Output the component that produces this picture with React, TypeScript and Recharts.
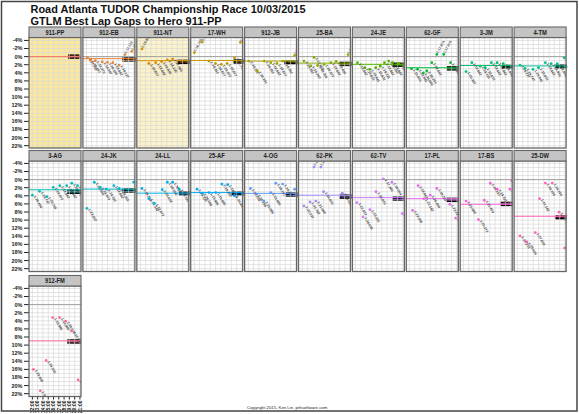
import React from 'react';
import { ComposedChart, Scatter, XAxis, YAxis, ReferenceLine, ReferenceArea } from 'recharts';

const CARS = ['911-PP', '912-EB', '911-NT', '17-WH', '912-JB', '25-BA', '24-JE', '62-GF', '3-JM', '4-TM',
  '3-AG', '24-JK', '24-LL', '25-AF', '4-OG', '62-PK', '62-TV', '17-PL', '17-BS', '25-DW', '912-FM'];

// best lap of each car, % slower than the hero's best
const BEST_GAP = [0, 0.5, 1.0, 0.95, 1.1, 1.6, 1.9, 2.75, 2.2, 2.3, 2.5, 2.35, 3.35, 3.2, 3.4, 3.85, 4.45, 4.7, 6.1, 9.05, 8.95];

// best lap of each stint: time of day (h) and gap (%)
const LAP_HOUR = [
  [21.15],
  [12.2, 12.8, 13.7, 15.0, 16.0, 17.0, 18.2, 19.3, 20.6],
  [12.3, 13.6, 14.9, 16.0, 17.1, 18.1],
  [12.0, 13.5, 14.75, 16.0, 17.1, 18.2, 19.6, 20.7],
  [12.1, 13.7, 15.0, 16.25, 17.4, 18.5, 20.75],
  [12.3, 13.6, 14.2, 14.9, 16.1, 17.4, 18.4, 20.65],
  [12.4, 13.8, 14.75, 15.85, 16.7, 17.5, 18.3, 19.05, 20.2, 21.2],
  [12.4, 13.55, 14.65, 15.3, 16.25, 17.2, 18.5, 19.8],
  [12.5, 13.6, 15.2, 16.15, 17.3, 18.4, 19.55],
  [12.5, 13.45, 14.95, 16.0, 17.3, 18.4, 19.55, 20.85],
  [12.0, 13.35, 14.75, 15.95, 17.2, 18.5, 19.45, 20.55],
  [12.1, 13.5, 14.65, 15.8, 17.2, 18.2, 20.95],
  [12.3, 13.6, 14.65, 16.15, 17.1, 18.1, 19.35],
  [12.5, 13.5, 14.75, 16.05, 17.2, 18.3, 19.55, 21.2],
  [12.4, 13.55, 14.95, 16.25, 17.2, 18.5, 20.75],
  [12.3, 13.45, 14.2, 14.55, 15.5, 16.0, 19.55],
  [12.3, 13.45, 14.75, 15.9, 17.3, 18.9, 20.85],
  [12.6, 13.65, 14.75, 15.95, 17.2, 19.65, 20.75],
  [12.5, 14.85, 15.95, 17.1, 18.4, 20.8, 21.15],
  [12.5, 13.8, 15.4, 16.2, 17.3, 18.6, 19.9, 20.95],
  [12.2, 13.5, 14.6, 15.85, 17.15, 18.3, 19.4, 20.65],
];
const LAP_GAP = [
  [0.3],
  [0.3, 0.9, 1.0, 1.3, 1.4, 1.5, 2.1, -0.5, -1.3],
  [-1.9, 1.7, 1.5, 1.2, 0.8, 0.6],
  [-1.0, -3.6, 1.1, 1.7, 1.9, 1.7, 0.3, -3.5],
  [1.1, 3.55, 1.1, 1.5, 1.7, 1.1, -0.3],
  [1.1, 2.3, 0.2, 2.2, 1.9, 1.5, 1.2, -0.5],
  [1.5, 2.75, 3.15, 2.75, 2.35, 1.5, 1.1, 1.5, 1.7, 2.2],
  [3.0, 3.15, 4.0, 3.55, 1.5, -0.55, -0.55, 1.5],
  [3.7, 1.5, 2.35, 2.75, 1.5, 1.5, 1.75],
  [2.1, 2.9, 3.15, 2.75, 1.5, 1.75, 1.75, 0.3],
  [3.85, 2.9, 4.2, 1.9, 1.5, 1.5, 0.9, 1.5],
  [7.1, 0.65, 1.9, 2.35, 1.5, 2.2, 0.65],
  [2.2, 4.7, 5.9, 2.5, 0.65, 0.65, 2.35],
  [2.35, 3.35, 3.2, 3.2, 1.1, 1.25, 4.0, 0.25],
  [2.2, 3.6, 5.3, 3.2, 0.9, 1.1, 2.35],
  [6.5, 5.5, -3.1, 5.3, -3.1, 3.0, 3.35],
  [5.7, 9.2, 7.4, 3.0, -0.2, 0.65, 8.4],
  [7.6, 1.5, 4.7, 3.85, 2.2, 6.1, 9.5],
  [5.3, 9.9, 5.1, 0.9, 2.35, 2.35, 0.25],
  [13.9, 15.4, 13.1, 4.7, 0.85, 0.85, 8.05, 16.9],
  [16.0, 21.3, 13.8, 3.2, 3.2, 4.1, 6.5, 18.6],
];

// closing run of laps, labelled together
const LAST_FROM = [18.75, 18.8, 18.9, 19.4, 18.8, 19.0, 18.9, 19.1, 19.3, 19.2, 18.6, 18.8, 19.35, 18.9, 19.1, 19.0, 19.0, 19.0, 19.0, 19.2, 18.6];
const LAST_TO = [20.9, 21.3, 21.3, 21.3, 21.3, 21.3, 21.3, 21.3, 21.3, 21.3, 21.2, 21.3, 21.3, 21.3, 21.3, 21.3, 21.3, 21.3, 21.3, 21.3, 21.2];
const LAST_GAP = [0, 0.7, 1.3, 1.2, 1.4, 1.8, 2.0, 2.9, 2.5, 2.4, 3.0, 2.7, 3.4, 3.4, 3.7, 4.2, 4.7, 5.0, 6.0, 9.3, 9.1];

const HOUR_TICKS = [12, 13, 14, 15, 16, 17, 18, 19, 20, 21];
const GAP_TICKS = [-4, -2, 0, 2, 4, 6, 8, 10, 12, 14, 16, 18, 20, 22];
const GAP_GRID = [-4, -3, -2, -1, 0, 1, 2, 3, 4, 5, 6, 7, 8, 9, 10, 11, 12, 13, 14, 15, 16, 17, 18, 19, 20, 21, 22];
const HERO_BEST_S = 77.5;

const HOUR_DOMAIN: [number, number] = [11.36, 21.2];
const GAP_DOMAIN: [number, number] = [-4.6, 22.7];

const COL_X0 = 29;
const COL_STEP = 53.9;
const ROW_STRIP = [27, 150.5, 275.5];
const STRIP_H = 10.5;
const PLOT_W = 52;
const PLOT_H = 110.5;
const Y_AXIS_W = 29;
const X_AXIS_H = 16;
const FONT = '"Liberation Sans", Arial, sans-serif';

const PANEL_FILL: Record<string, string> = { '911-PP': '#fce89c', '911-NT': '#fdf3ca' };

// ggplot-style hue palette
function hcl(h: number, c = 100, l = 65) {
  const hr = (h * Math.PI) / 180;
  const u = c * Math.cos(hr), v = c * Math.sin(hr);
  const Xn = 95.047, Yn = 100, Zn = 108.883;
  const den = Xn + 15 * Yn + 3 * Zn;
  const un = (4 * Xn) / den, vn = (9 * Yn) / den;
  const Y = Yn * Math.pow((l + 16) / 116, 3);
  const up = u / (13 * l) + un, vp = v / (13 * l) + vn;
  const X = (Y * 9 * up) / (4 * vp);
  const Z = (Y * (12 - 3 * up - 20 * vp)) / (4 * vp);
  const x = X / 100, y = Y / 100, z = Z / 100;
  const lin = [
    3.2404542 * x - 1.5371385 * y - 0.4985314 * z,
    -0.969266 * x + 1.8760108 * y + 0.041556 * z,
    0.0556434 * x - 0.2040259 * y + 1.0572252 * z,
  ];
  return '#' + lin.map((t) => {
    const g = t <= 0.0031308 ? 12.92 * t : 1.055 * Math.pow(t, 1 / 2.4) - 0.055;
    return Math.round(255 * Math.min(1, Math.max(0, g))).toString(16).padStart(2, '0');
  }).join('');
}
const carColor = (i: number) => hcl(15 + (360 * i) / CARS.length);

function lapTime(gap: number) {
  const t = HERO_BEST_S * (1 + gap / 100);
  const m = Math.floor(t / 60);
  return `${m}:${(t - m * 60).toFixed(3).padStart(6, '0')}`;
}

const panelPos = (i: number) => {
  const col = i % 10, row = Math.floor(i / 10);
  return { x: COL_X0 + col * COL_STEP, y: ROW_STRIP[row] + STRIP_H, strip: ROW_STRIP[row], col };
};

function LapMark(props: any) {
  const { cx, cy, payload, fill } = props;
  if (cx == null || cy == null) return null;
  const up = payload.gap < -0.25;
  const tx = cx + 1.2, ty = cy + (up ? -0.8 : 1.2);
  return (
    <g>
      <circle cx={cx} cy={cy} r={1.4} fill={fill} />
      <text x={tx} y={ty} fontSize={3.5} fill="#444" fontFamily={FONT} fontWeight="bold"
        transform={`rotate(${up ? -60 : 60}, ${tx}, ${ty})`}>
        {lapTime(payload.gap)}
      </text>
    </g>
  );
}

function HourTick(props: any) {
  const { x, y, payload } = props;
  return (
    <text x={x} y={y} fontSize={5} fill="#222" fontFamily={FONT} fontWeight="bold" textAnchor="end" dy="0.35em"
      transform={`rotate(-90, ${x}, ${y})`}>
      {`${payload.value}:00`}
    </text>
  );
}

function Panel({ i }: { i: number }) {
  const { x, y, col } = panelPos(i);
  const first = col === 0;
  const bottom = i === CARS.length - 1;
  const color = carColor(i);
  const data = LAP_HOUR[i].map((h, k) => ({ hour: h, gap: LAP_GAP[i][k] }));
  return (
    <div style={{ position: 'absolute', left: x - (first ? Y_AXIS_W : 0), top: y }}>
      <ComposedChart width={PLOT_W + (first ? Y_AXIS_W : 0)} height={PLOT_H + (bottom ? X_AXIS_H : 0)}
        data={data} margin={{ top: 0, right: 0, bottom: 0, left: 0 }}>
        <XAxis type="number" dataKey="hour" domain={HOUR_DOMAIN} ticks={HOUR_TICKS} allowDataOverflow
          hide={!bottom} height={X_AXIS_H} interval={0} axisLine={false} tickSize={3} tickMargin={1}
          tickLine={{ stroke: '#222' }} tick={<HourTick />} />
        <YAxis type="number" dataKey="gap" domain={GAP_DOMAIN} ticks={GAP_TICKS} reversed allowDataOverflow
          hide={!first} width={Y_AXIS_W} interval={0} axisLine={false} tickSize={5} tickMargin={1.5}
          tickLine={{ stroke: '#222' }} tickFormatter={(v: number) => `${v}%`}
          tick={{ fontSize: 5.5, fill: '#222', fontWeight: 'bold', fontFamily: FONT }} />
        {GAP_GRID.map((g) => (
          <ReferenceLine key={`g${g}`} y={g} stroke="#d9d9d9" strokeWidth={0.7} />
        ))}
        {HOUR_TICKS.map((h) => (
          <ReferenceLine key={`h${h}`} x={h} stroke="#d9d9d9" strokeWidth={0.7} />
        ))}
        <ReferenceLine y={0} stroke="#9a9a9a" strokeWidth={0.9} />
        <ReferenceLine y={BEST_GAP[i]} stroke={color} strokeWidth={1} />
        <ReferenceArea x1={LAST_FROM[i]} x2={LAST_TO[i]} y1={LAST_GAP[i] - 0.55} y2={LAST_GAP[i] + 0.55}
          fill="#000" fillOpacity={1} stroke="none" ifOverflow="visible"
          label={{ value: lapTime(LAST_GAP[i]), fill: color, fontSize: 3.4, position: 'center', fontFamily: FONT }} />
        <Scatter dataKey="gap" fill={color} shape={<LapMark />} isAnimationActive={false} />
      </ComposedChart>
    </div>
  );
}

export default function App() {
  return (
    <div style={{ position: 'absolute', left: 0, top: 0, width: 579, height: 414, background: '#fff', overflow: 'hidden' }}>
      <style>{'.recharts-surface{overflow:visible}'}</style>
      <svg width={579} height={414} style={{ position: 'absolute', left: 0, top: 0 }}>
        {CARS.map((c, i) => {
          const p = panelPos(i);
          return <rect key={c} x={p.x} y={p.y} width={PLOT_W} height={PLOT_H} fill={PANEL_FILL[c] ?? '#fff'} />;
        })}
      </svg>
      {CARS.map((c, i) => <Panel key={c} i={i} />)}
      <svg width={579} height={414} style={{ position: 'absolute', left: 0, top: 0, pointerEvents: 'none' }}>
        <rect x={1.5} y={1.5} width={575.5} height={409.5} fill="none" stroke="#444" strokeWidth={1.5} />
        <text x={30.5} y={12.6} fontSize={10.6} fontWeight="bold" fontFamily={FONT} fill="#111"
          textLength={275} lengthAdjust="spacingAndGlyphs">Road Atlanta TUDOR Championship Race 10/03/2015</text>
        <text x={30.5} y={24.6} fontSize={10.6} fontWeight="bold" fontFamily={FONT} fill="#111"
          textLength={191} lengthAdjust="spacingAndGlyphs">GTLM Best Lap Gaps to Hero 911-PP</text>
        {CARS.map((c, i) => {
          const p = panelPos(i);
          return (
            <g key={c}>
              <rect x={p.x} y={p.y} width={PLOT_W} height={PLOT_H} fill="none" stroke="#666" strokeWidth={1.3} />
              <rect x={p.x} y={p.strip} width={PLOT_W} height={STRIP_H} fill="#c4c4c4" stroke="#666" strokeWidth={1.1} />
              <text transform={`translate(${p.x + PLOT_W / 2}, ${p.strip + 7.8}) scale(0.8, 1)`} textAnchor="middle"
                fontSize={7.2} fontWeight="bold" fontFamily={FONT} fill="#222">{c}</text>
            </g>
          );
        })}
        <text x={247} y={409} fontSize={4.3} fontFamily={FONT} fill="#222">Copyright 2015, Ken Lin. prhsoftware.com</text>
      </svg>
    </div>
  );
}
